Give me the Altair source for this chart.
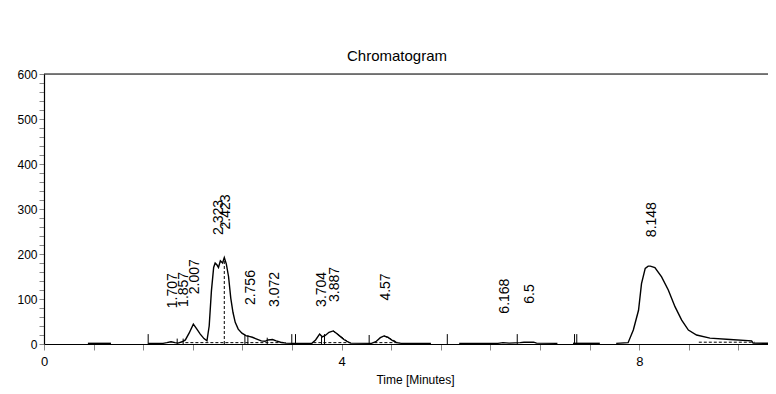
import altair as alt
import pandas as pd

# ---- detector trace (minutes, mV), in drawn segments ----
trace_t = [0.59, 0.90,
           1.40, 1.60, 1.65, 1.707, 1.76, 1.80, 1.857, 1.90, 1.95, 2.007, 2.05, 2.10, 2.15, 2.19,
           2.22, 2.25, 2.28, 2.30, 2.323, 2.345, 2.37, 2.40, 2.423, 2.45, 2.48, 2.51, 2.54, 2.57,
           2.61, 2.66, 2.72, 2.756, 2.80, 2.86, 2.92, 2.97, 3.01, 3.072, 3.12, 3.18, 3.25, 3.35,
           3.60, 3.65, 3.704, 3.74, 3.78, 3.83, 3.887, 3.93, 3.98, 4.03, 4.08, 4.12, 4.40, 4.46,
           4.52, 4.57, 4.62, 4.68, 4.74, 4.80, 5.20,
           5.58, 6.10, 6.168, 6.25, 6.40, 6.45, 6.50, 6.58, 6.62, 6.90,
           7.11, 7.47,
           7.69, 7.85, 7.92, 7.99, 8.03, 8.08, 8.12, 8.148, 8.21, 8.30, 8.39, 8.48, 8.57, 8.66,
           8.77, 8.95, 9.22, 9.51, 9.53, 9.73]
trace_y = [1.5, 1.5,
           1.5, 1.5, 3, 5, 3, 2, 5, 9, 24, 44, 34, 22, 12, 7,
           40, 118, 170, 180, 176, 170, 185, 180, 192, 178, 150, 102, 70, 48,
           33, 24, 18, 17, 15, 11, 7, 6, 9, 10, 7, 4, 2, 1.5,
           1.5, 9, 22, 16, 19, 26, 29, 24, 17, 10, 5, 2, 1.5, 5,
           14, 18, 15, 8, 3, 1.5, 1.5,
           1.5, 1.5, 3, 2, 3, 4, 4, 4, 2, 1.5,
           1.5, 1.5,
           1.5, 3, 31, 75, 134, 168, 173, 173, 170, 149, 120, 83, 53, 31,
           20, 13, 10, 7, 2, 1.5]
trace_seg = ([0] * 2 + [1] * 63 + [2] * 10 + [3] * 2 + [4] * 20)

# ---- integration baselines / drop lines (dashed) ----
base_t1 = [1.90, 3.62, 3.887, 4.44, 4.57, 8.80, 2.423]
base_y1 = [3, 3, 29, 3, 18, 4, 0]
base_t2 = [3.25, 4.12, 4.10, 4.78, 4.76, 9.55, 2.423]
base_y2 = [3, 3, 3, 3, 3, 4, 190]

# ---- peak start/end event markers ----
mark_t = [1.40, 1.79, 1.87, 2.70, 2.74, 3.00, 3.33, 3.38, 3.73, 3.77, 4.37, 5.42, 6.36, 7.13, 7.16]
mark_h = [22, 12, 12, 20, 20, 14, 22, 22, 16, 22, 20, 22, 22, 22, 22]

# ---- peak labels (retention time) and apex heights ----
peak_rt = ["1.707", "1.857", "2.007", "2.323", "2.423", "2.756", "3.072",
           "3.704", "3.887", "4.57", "6.168", "6.5", "8.148"]
peak_t = [1.707, 1.857, 2.007, 2.323, 2.423, 2.756, 3.072, 3.704, 3.887, 4.57, 6.168, 6.5, 8.148]
peak_h = [15, 18, 46, 178, 190, 22, 18, 18, 29, 32, 3, 25, 173]

# ---- axis ticks ----
x_ticks = [0, 0.6667, 1.3333, 2, 2.6667, 3.3333, 4, 4.6667, 5.3333, 6, 6.6667, 7.3333,
           8, 8.6667, 9.3333]
y_ticks = list(range(0, 601, 20))
y_top = [600]

# all layers share the field names t / y so their axes merge cleanly
trace = pd.DataFrame({"t": trace_t, "y": trace_y, "seg": trace_seg})
bases = pd.DataFrame({"t": base_t1, "y": base_y1, "t2": base_t2, "y2": base_y2})
marks = pd.DataFrame({"t": mark_t, "y2": mark_h, "y": [0] * len(mark_t)})
peaks = pd.DataFrame({"rt": peak_rt, "t": peak_t, "y": peak_h})
topdf = pd.DataFrame({"y": y_top})

FONT = "Liberation Sans"
xs = alt.Scale(domain=[0, 9.73], nice=False, zero=False)
ys = alt.Scale(domain=[0, 600], nice=False)

x_axis = alt.Axis(values=x_ticks, title="Time [Minutes]", grid=False,
                  labelExpr="abs(datum.value - round(datum.value)) < 0.01 && round(datum.value) % 4 == 0 ? format(round(datum.value), 'd') : ''",
                  tickSize=6, labelPadding=5, titleX=371, titlePadding=6,
                  labelOverlap=False, labelBound=False, labelFlush=False,
                  labelFontSize=13, domain=True, domainColor="black", domainWidth=1.2,
                  titleFontWeight="normal", titleFontSize=12)
y_axis = alt.Axis(values=y_ticks, title=None, grid=False,
                  labelExpr="datum.value % 100 === 0 ? datum.label : ''",
                  labelOverlap=False, labelBound=False, labelFlush=False,
                  labelFontSize=12, domain=True, domainColor="black", domainWidth=1.2,
                  tickSize=5, labelPadding=2)

X = alt.X("t:Q", scale=xs, axis=x_axis)
Y = alt.Y("y:Q", scale=ys, axis=y_axis)

line = alt.Chart(trace).mark_line(color="black", strokeWidth=1.4).encode(
    x=X, y=Y, detail="seg:N")

dashed = alt.Chart(bases).mark_rule(color="black", strokeWidth=1, strokeDash=[3, 2]).encode(
    x=X, y=Y, x2="t2:Q", y2="y2:Q")

events = alt.Chart(marks).mark_rule(color="black", strokeWidth=1).encode(
    x=X, y=Y, y2="y2:Q")

labels = alt.Chart(peaks).mark_text(
    angle=270, align="left", baseline="middle", dx=29, dy=2,
    font=FONT, fontSize=14, color="black").encode(
    x=X, y=Y, text="rt:N")

top = alt.Chart(topdf).mark_rule(color="black", strokeWidth=1.2).encode(y=Y)

chart = alt.layer(line, dashed, events, labels, top).properties(
    width=724, height=270,
    title=alt.TitleParams("Chromatogram", fontSize=15, fontWeight="normal", font=FONT,
                          color="black", dx=-9, offset=4),
    padding={"left": 36, "top": 66, "right": 0, "bottom": 50},
    autosize=alt.AutoSizeParams(type="none"),
).configure_view(stroke=None).configure_axis(
    domainColor="black", tickColor="black", labelColor="black", titleColor="black",
    labelFont=FONT, titleFont=FONT, domainWidth=1.2, tickWidth=1,
    grid=False,
).configure(background="white")

chart.save("out.html", embed_options={"renderer": "svg", "actions": False})
